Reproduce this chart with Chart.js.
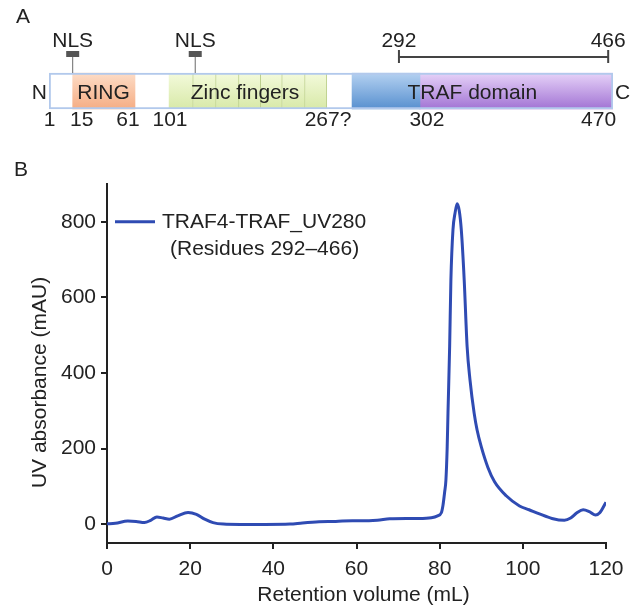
<!DOCTYPE html>
<html>
<head>
<meta charset="utf-8">
<title>TRAF4 domains and TRAF domain SEC profile</title>
<script src="https://cdn.jsdelivr.net/npm/chart.js@4.4.1/dist/chart.umd.min.js"></script>
<style>
  html, body { margin: 0; padding: 0; background: #fff; }
  #wrap { position: relative; width: 636px; height: 609px; }
  #panelA { position: absolute; left: 0; top: 0; }
  #panelB { position: absolute; left: 0; top: 140px; }
</style>
</head>
<body>
<div id="wrap">
  <canvas id="panelA" width="636" height="140"></canvas>
  <canvas id="panelB" width="636" height="469"></canvas>
</div>
<script>
// Panel A - TRAF4 domain map, positions in residue units along the drawn bar
const proteinSpan = [1, 470];
const ringDomain = [20.7, 72.5];
const zincBounds = [100.5, 121, 140, 159, 177, 195, 214, 232];
const trafNterm = [253, 309.5];
const trafDomain = [309.5, 470];
const nlsSites = [20.7, 122.6];
const constructSpan = [292, 466];
const domainNames = ['RING', 'Zinc fingers', 'TRAF domain'];
const domainNamePos = [46.3, 164, 353];
const residueLabels = ['1', '15', '61', '101', '267?', '302', '470'];
const residueLabelPos = [1.4, 28.2, 66.7, 101.6, 233, 315.3, 458];

// Panel B - size exclusion profile
const retentionVolume = [0, 2, 5, 7, 9, 10.5, 12, 13.5, 15, 17, 19.5, 21.5, 23.5, 25.5, 28, 32, 38, 44, 47, 51, 55, 59, 63, 65, 68, 72, 75, 78, 79.5,
  80.4, 80.8, 81.2, 81.5, 81.8, 82.0, 82.4, 82.7, 83.2, 83.7, 84.2, 84.7, 85.2, 85.9, 86.6, 87.3, 88.3, 89.0, 90.0, 91.6, 93.2, 96.0, 99.2,
  101.5, 104, 107, 110, 111.5, 113, 114.5, 116, 117.5, 118.5, 120];
const uvAbsorbance = [1, 2, 8, 7, 4, 10, 19, 16, 13, 22, 31, 26, 13, 4, 0, -1, -1, 0, 3, 6, 7, 9, 9, 10, 14, 15, 15, 17, 22,
  30, 50, 85, 116, 200, 294, 470, 646, 779, 823, 848, 830, 779, 646, 470, 381, 293, 249, 205, 150, 112, 75, 48,
  38, 27, 15, 10, 16, 30, 38, 33, 24, 30, 58];
const xTicks = [0, 20, 40, 60, 80, 100, 120];
const yTicks = [0, 200, 400, 600, 800];
const xTitle = 'Retention volume (mL)';
const yTitle = 'UV absorbance (mAU)';

Chart.defaults.font.family = '"Liberation Sans", Arial, sans-serif';
Chart.defaults.font.size = 21;
Chart.defaults.color = '#222';

const FONT = '21px "Liberation Sans", Arial, sans-serif';
const BAR_H = 36;

function vGrad(top, bottom) {
    return function (c) {
        const chart = c.chart;
        if (!chart.chartArea) return bottom;
        const yc = chart.scales.y.getPixelForValue(0);
        const g = chart.ctx.createLinearGradient(0, yc - BAR_H / 2, 0, yc + BAR_H / 2);
        g.addColorStop(0, top);
        g.addColorStop(1, bottom);
        return g;
    };
}

const domainSets = [
    { data: [proteinSpan], backgroundColor: 'rgba(255,255,255,0)', borderColor: '#b2c9ec', borderWidth: 1.5, order: -1 },
    { data: [ringDomain], backgroundColor: vGrad('#fddcc6', '#f5ad84') },
    { data: [trafNterm], backgroundColor: vGrad('#b4d1f1', '#5890cf') },
    { data: [trafDomain], backgroundColor: vGrad('#e6d2f8', '#a274d4') }
];
for (let i = 0; i < zincBounds.length - 1; i++) {
    domainSets.push({
        data: [[zincBounds[i], zincBounds[i + 1]]],
        backgroundColor: vGrad('#f3fadb', '#d8e9a8'),
        borderColor: '#bccf8c',
        borderWidth: { left: 0, right: 1, top: 0, bottom: 0 }
    });
}

const domainMapText = {
    id: 'domainMapText',
    afterDatasetsDraw(chart) {
        const { ctx, scales: { x, y } } = chart;
        const yc = y.getPixelForValue(0);
        const top = yc - BAR_H / 2, bottom = yc + BAR_H / 2;
        ctx.save();
        ctx.font = FONT;
        ctx.fillStyle = '#222';
        ctx.textBaseline = 'middle';

        ctx.textAlign = 'left';
        ctx.fillText('A', 16, 17);
        ctx.textAlign = 'right';
        ctx.fillText('N', x.getPixelForValue(proteinSpan[0]) - 2, yc + 2);
        ctx.textAlign = 'left';
        ctx.fillText('C', x.getPixelForValue(proteinSpan[1]) + 2, yc + 2);

        ctx.textAlign = 'center';
        domainNames.forEach((n, i) => ctx.fillText(n, x.getPixelForValue(domainNamePos[i]), yc + 2));
        residueLabels.forEach((t, i) => ctx.fillText(t, x.getPixelForValue(residueLabelPos[i]), bottom + 11));

        nlsSites.forEach(r => {
            const px = x.getPixelForValue(r);
            ctx.strokeStyle = '#6a6a6a';
            ctx.lineWidth = 1;
            ctx.beginPath(); ctx.moveTo(px, top); ctx.lineTo(px, top - 16); ctx.stroke();
            ctx.fillStyle = '#555';
            ctx.fillRect(px - 6.5, top - 22, 13, 6);
            ctx.fillStyle = '#222';
            ctx.fillText('NLS', px, top - 31.5);
        });

        // expressed construct
        const x0 = x.getPixelForValue(constructSpan[0]), x1 = x.getPixelForValue(constructSpan[1]);
        ctx.strokeStyle = '#444';
        ctx.lineWidth = 2;
        ctx.beginPath();
        ctx.moveTo(x0, top - 16); ctx.lineTo(x1, top - 16);
        ctx.moveTo(x0, top - 23); ctx.lineTo(x0, top - 10);
        ctx.moveTo(x1, top - 23); ctx.lineTo(x1, top - 10);
        ctx.stroke();
        ctx.fillText(String(constructSpan[0]), x0, top - 31.5);
        ctx.fillText(String(constructSpan[1]), x1, top - 31.5);
        ctx.restore();
    }
};

new Chart(document.getElementById('panelA'), {
    type: 'bar',
    data: { labels: ['TRAF4'], datasets: domainSets },
    options: {
        responsive: false,
        animation: false,
        indexAxis: 'y',
        layout: { padding: { left: 49, right: 23, top: 60, bottom: 18 } },
        datasets: { bar: { grouped: false, barThickness: BAR_H, borderSkipped: false } },
        plugins: { legend: { display: false }, tooltip: { enabled: false } },
        scales: {
            x: { type: 'linear', min: proteinSpan[0], max: proteinSpan[1], display: false },
            y: { type: 'category', display: false }
        }
    },
    plugins: [domainMapText]
});

// panel letter, legend and axis titles (titles sit a little off the axis centres in the figure)
const panelBText = {
    id: 'panelBText',
    afterDraw(chart) {
        const { ctx, chartArea } = chart;
        const ly = chart.scales.y.getPixelForValue(800);
        ctx.save();
        ctx.font = FONT;
        ctx.fillStyle = '#222';
        ctx.textBaseline = 'middle';
        ctx.textAlign = 'left';
        ctx.fillText('B', 14, 30);

        ctx.strokeStyle = '#2f4bb3';
        ctx.lineWidth = 3;
        ctx.beginPath();
        ctx.moveTo(chartArea.left + 8, ly);
        ctx.lineTo(chartArea.left + 48, ly);
        ctx.stroke();
        ctx.fillText(chart.data.datasets[0].label, chartArea.left + 55, ly);
        ctx.fillText('(Residues 292\u2013466)', chartArea.left + 63, ly + 27);

        ctx.textAlign = 'center';
        ctx.fillText(xTitle, (chartArea.left + chartArea.right) / 2 + 7, chart.height - 14);
        ctx.translate(40, (chartArea.top + chartArea.bottom) / 2 + 19);
        ctx.rotate(-Math.PI / 2);
        ctx.fillText(yTitle, 0, 0);
        ctx.restore();
    }
};

const axisLine = { color: '#222', width: 2 };
const tickGrid = { drawOnChartArea: false, color: '#222', lineWidth: 2, tickLength: 6 };

new Chart(document.getElementById('panelB'), {
    type: 'line',
    data: {
        datasets: [{
            label: 'TRAF4-TRAF_UV280',
            data: retentionVolume.map((v, i) => ({ x: v, y: uvAbsorbance[i] })),
            borderColor: '#2f4bb3',
            borderWidth: 3,
            pointRadius: 0,
            cubicInterpolationMode: 'monotone',
            fill: false
        }]
    },
    options: {
        responsive: false,
        animation: false,
        layout: { padding: { left: 0, right: 30, top: 44, bottom: 0 } },
        plugins: { legend: { display: false }, tooltip: { enabled: false } },
        scales: {
            x: {
                type: 'linear', min: 0, max: 120,
                afterBuildTicks: s => { s.ticks = xTicks.map(v => ({ value: v })); },
                afterFit: s => { s.height = 66; },
                grid: tickGrid,
                border: axisLine,
                ticks: { padding: 8, maxRotation: 0 }
            },
            y: {
                type: 'linear', min: -50, max: 900,
                afterBuildTicks: s => { s.ticks = yTicks.map(v => ({ value: v })); },
                afterFit: s => { s.width = 107; },
                grid: tickGrid,
                border: axisLine,
                ticks: { padding: 5 }
            }
        }
    },
    plugins: [panelBText]
});
</script>
</body>
</html>
